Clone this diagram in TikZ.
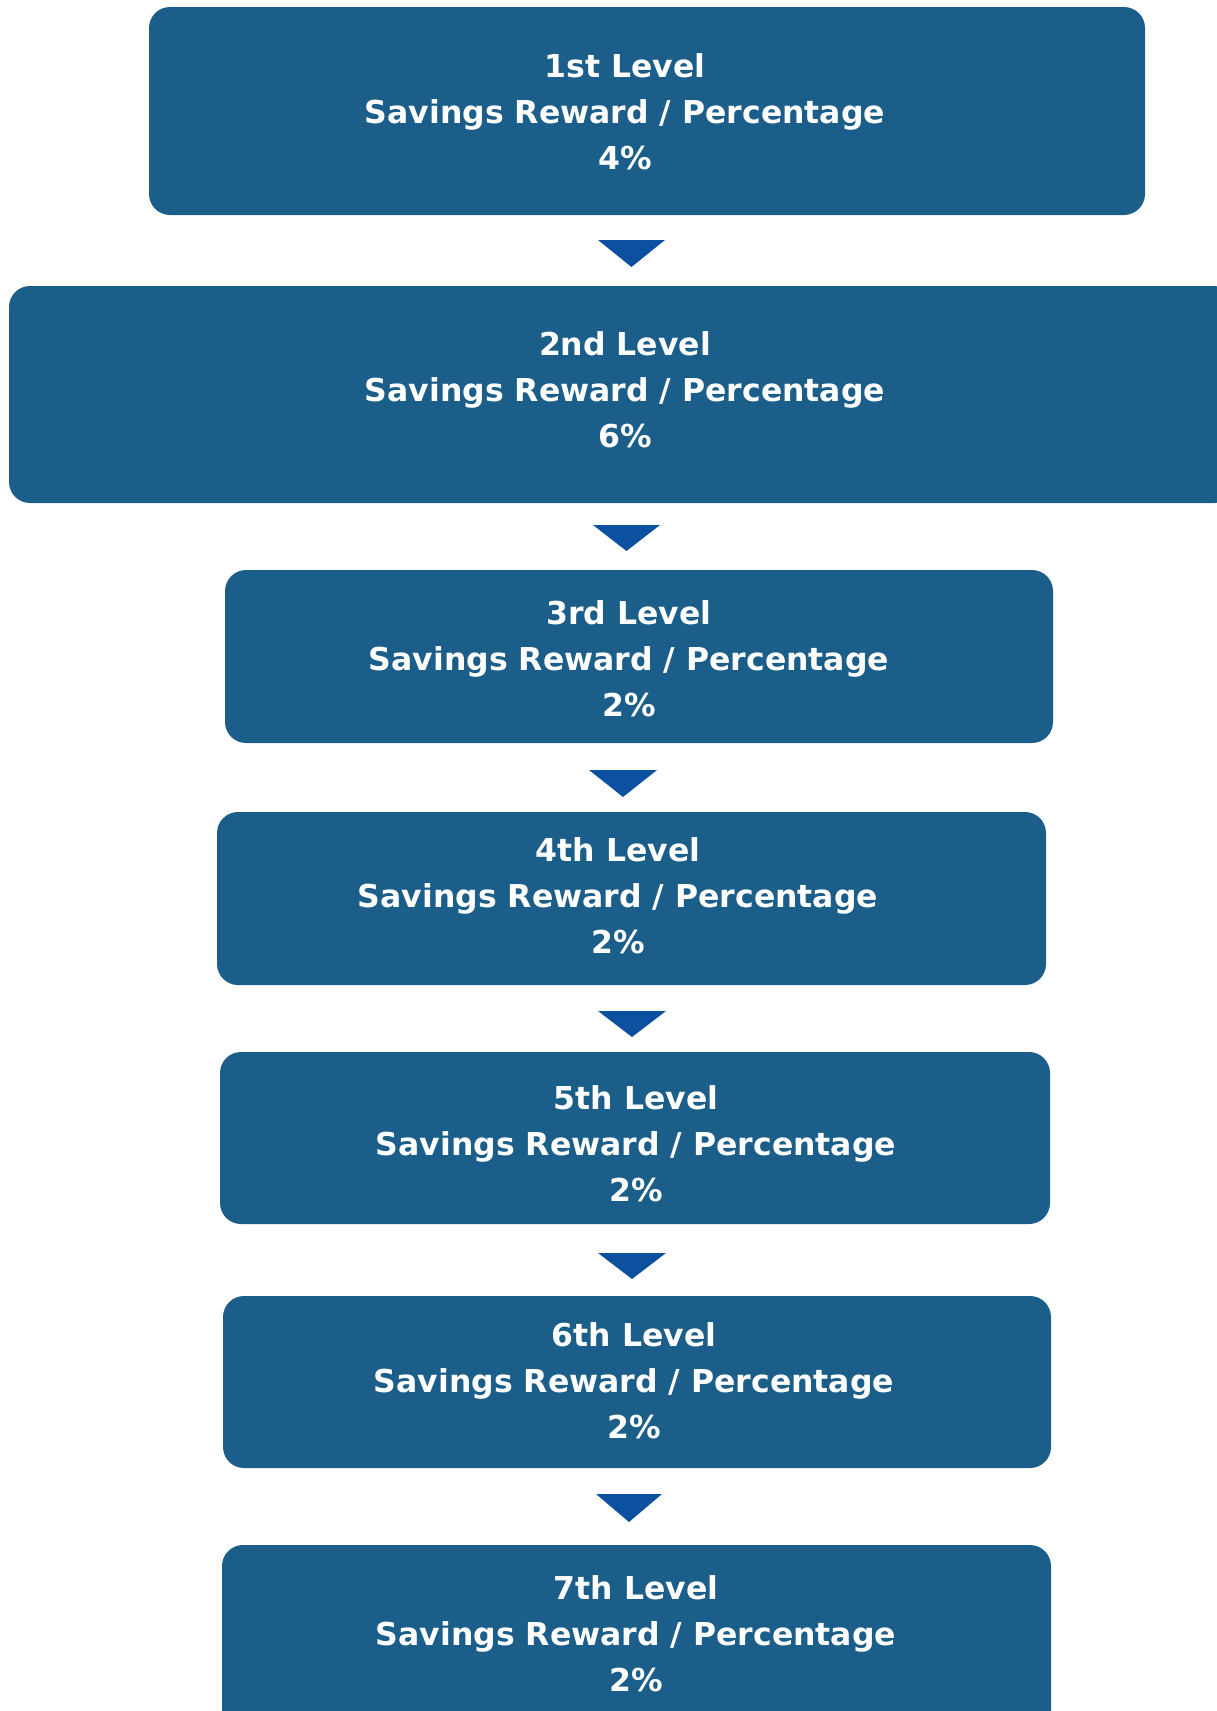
\documentclass[tikz,border=0pt]{standalone}
\usepackage{fontspec}
\setmainfont{DejaVu Sans}
\definecolor{boxblue}{RGB}{27,94,138}
\definecolor{arrowblue}{RGB}{12,80,160}
\begin{document}
\begin{tikzpicture}[x=1pt,y=-1pt,
  lvlbox/.style={fill=boxblue, draw=none, rounded corners=21pt},
  lvltext/.style={text=white, align=center, font=\fontsize{31.5}{45.8}\selectfont\bfseries, inner sep=0pt},
  tri/.style={fill=arrowblue, draw=none}]
\useasboundingbox (0,0) rectangle (1217,1711);
\clip (0,0) rectangle (1217,1711);
% boxes
\path[lvlbox] (149,7) rectangle (1145,215);
\path[lvlbox] (9,286) rectangle (1235,503);
\path[lvlbox] (225,570) rectangle (1053,743);
\path[lvlbox] (217,812) rectangle (1046,985);
\path[lvlbox] (220,1052) rectangle (1050,1224);
\path[lvlbox] (223,1296) rectangle (1051,1468);
\path[lvlbox] (222,1545) rectangle (1051,1760);
% texts
\node[lvltext] (t1) at (625,112) {1st Level\\Savings Reward / Percentage\\4\%};
\node[lvltext] (t2) at (625,390) {2nd Level\\Savings Reward / Percentage\\6\%};
\node[lvltext] (t3) at (629,659) {3rd Level\\Savings Reward / Percentage\\2\%};
\node[lvltext] (t4) at (618,896) {4th Level\\Savings Reward / Percentage\\2\%};
\node[lvltext] (t5) at (636,1144) {5th Level\\Savings Reward / Percentage\\2\%};
\node[lvltext] (t6) at (634,1381) {6th Level\\Savings Reward / Percentage\\2\%};
\node[lvltext] (t7) at (636,1634) {7th Level\\Savings Reward / Percentage\\2\%};
% triangles
\path[tri] (598,240) -- (665,240) -- (631.5,267) -- cycle;
\path[tri] (593,525) -- (660,525) -- (626.5,551) -- cycle;
\path[tri] (589,770) -- (657,770) -- (623,797) -- cycle;
\path[tri] (598,1011) -- (666,1011) -- (632,1037) -- cycle;
\path[tri] (598,1253) -- (666,1253) -- (632,1279) -- cycle;
\path[tri] (596,1494) -- (662,1494) -- (629,1522) -- cycle;
\end{tikzpicture}
\end{document}
